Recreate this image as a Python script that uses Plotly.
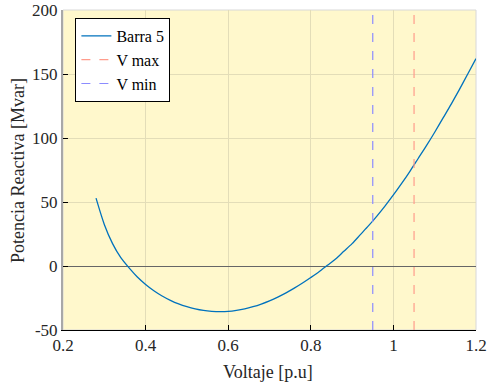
import plotly.graph_objects as go

# Curve: voltage [p.u] vs reactive power [Mvar]
voltaje = [0.28, 0.30, 0.32, 0.34, 0.36, 0.38, 0.40, 0.42, 0.44, 0.46, 0.48,
           0.50, 0.52, 0.54, 0.56, 0.58, 0.60, 0.62, 0.64, 0.66, 0.68, 0.70,
           0.72, 0.74, 0.76, 0.78, 0.80, 0.82, 0.84, 0.86, 0.88, 0.90, 0.92,
           0.94, 0.96, 0.98, 1.00, 1.02, 1.04, 1.06, 1.08, 1.10, 1.12, 1.14,
           1.16, 1.18, 1.20]
potencia = [53.0, 32.5, 17.5, 6.5, -1.5, -8.6, -14.4, -19.3, -23.4, -26.8, -29.6,
            -31.8, -33.5, -34.7, -35.4, -35.7, -35.5, -34.7, -33.5, -31.8, -29.7, -27.2,
            -24.3, -21.0, -17.3, -13.3, -9.0, -4.5, 0.5, 5.5, 11.5, 17.5, 24.5,
            31.5, 39.0, 47.0, 55.5, 64.5, 74.0, 84.0, 94.0, 104.5, 115.5, 126.5,
            138.0, 150.0, 162.0]

v_max = 1.05
v_min = 0.95
y_range = [-50, 200]
x_range = [0.2, 1.2]

x_ticks = [0.2, 0.4, 0.6, 0.8, 1.0, 1.2]
x_ticktext = ["0.2", "0.4", "0.6", "0.8", "1", "1.2"]
y_ticks = [-50, 0, 50, 100, 150, 200]
y_ticktext = ["-50", "0", "50", "100", "150", "200"]

x_title = "Voltaje [p.u]"
y_title = "Potencia Reactiva [Mvar]"

FONT = "Liberation Serif, Times New Roman, serif"
TXT = "#262626"

fig = go.Figure()
fig.add_trace(go.Scatter(x=voltaje, y=potencia, mode="lines", name="Barra 5",
                         line=dict(color="#0072BD", width=1.3, shape="spline", smoothing=0.8)))
fig.add_trace(go.Scatter(x=[v_max, v_max], y=y_range, mode="lines", name="V max",
                         line=dict(color="#FF9C8C", width=1.2, dash="dash")))
fig.add_trace(go.Scatter(x=[v_min, v_min], y=y_range, mode="lines", name="V min",
                         line=dict(color="#8C8CFF", width=1.2, dash="dash")))

# light border (box) around plot area
fig.add_shape(type="rect", xref="paper", yref="paper", x0=0, x1=1, y0=0, y1=1,
              line=dict(color="#D8D8D8", width=1), layer="below")

# axis titles
fig.add_annotation(text=x_title, xref="paper", yref="paper", x=0.496, y=-0.131,
                   xanchor="center", yanchor="middle", showarrow=False,
                   font=dict(family=FONT, size=18, color=TXT))
fig.add_annotation(text=y_title, xref="paper", yref="paper", x=-0.109, y=0.5,
                   xanchor="center", yanchor="middle", textangle=-90, showarrow=False,
                   font=dict(family=FONT, size=18, color=TXT))

fig.update_layout(
    width=487, height=384,
    margin=dict(l=63, r=11, t=10, b=54, autoexpand=False),
    paper_bgcolor="white",
    plot_bgcolor="#FFF8CC",
    font=dict(family=FONT, size=16, color=TXT),
    showlegend=True,
    legend=dict(x=0.03, y=0.975, xanchor="left", yanchor="top",
                bgcolor="white", bordercolor="black", borderwidth=1,
                font=dict(family=FONT, size=16, color="black"),
                tracegroupgap=0),
    xaxis=dict(range=x_range, tickvals=x_ticks, ticktext=x_ticktext,
               automargin=False,
               showgrid=True, gridcolor="#E3DDB8", gridwidth=1,
               zeroline=False, showline=True, linecolor="black", linewidth=1,
               ticks="inside", ticklen=5, tickcolor="black",
               tickfont=dict(family=FONT, size=17, color=TXT)),
    yaxis=dict(range=y_range, tickvals=y_ticks, ticktext=y_ticktext,
               automargin=False,
               showgrid=True, gridcolor="#E3DDB8", gridwidth=1,
               zeroline=True, zerolinecolor="#666666", zerolinewidth=1.3,
               showline=True, linecolor="#A8A8A8", linewidth=2,
               ticks="inside", ticklen=5, tickcolor="black",
               tickfont=dict(family=FONT, size=17, color=TXT)),
)

fig.write_html("out.html", config={"displayModeBar": False},
               post_script="document.body.style.margin='0';document.body.style.overflow='hidden';")
